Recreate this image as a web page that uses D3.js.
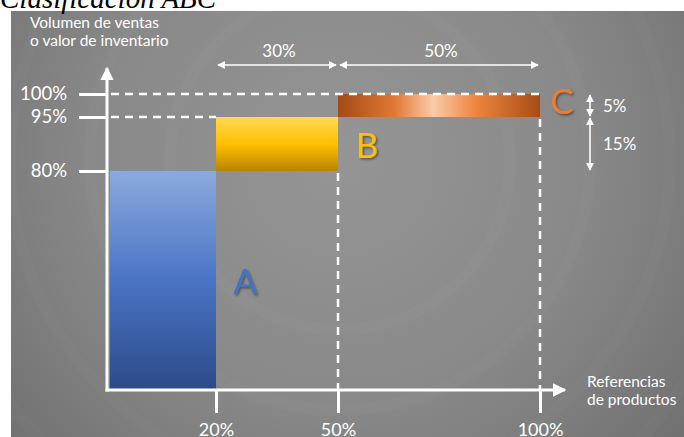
<!DOCTYPE html>
<html>
<head>
<meta charset="utf-8">
<style>
  body { margin: 0; background: #fff; }
  svg { display: block; }
  text { font-family: Lato, "Open Sans", sans-serif; }
</style>
</head>
<body>
<svg width="684" height="437"></svg>
<script src="https://d3js.org/d3.v7.min.js"></script>
<script>
  // breakpoints on both axes (the chart is schematic, not to scale)
  var xStops = [0, 20, 50, 100];
  var yStops = [0, 80, 95, 100];

  var xTickLabels = ["20%", "50%", "100%"];
  var yTickLabels = ["80%", "95%", "100%"];

  var classes = ["A", "B", "C"];
  var classX0 = [0, 20, 50];
  var classX1 = [20, 50, 100];
  var classY0 = [0, 80, 95];
  var classY1 = [80, 95, 100];

  var topSpans = ["30%", "50%"];     // share of references for B and C
  var rightSpans = ["5%", "15%"];    // share of volume for C and B

  var svg = d3.select("svg");

  var x = d3.scaleLinear().domain(xStops).range([107, 216, 338, 540]);
  var y = d3.scaleLinear().domain(yStops).range([390, 171, 117, 94]);

  var defs = svg.append("defs");

  var bg = defs.append("radialGradient").attr("id", "bg")
      .attr("gradientUnits", "userSpaceOnUse")
      .attr("cx", 340).attr("cy", 160).attr("r", 480);
  bg.append("stop").attr("offset", 0).attr("stop-color", "#959595");
  bg.append("stop").attr("offset", 0.5).attr("stop-color", "#898989");
  bg.append("stop").attr("offset", 1).attr("stop-color", "#6c6c6c");

  var gA = defs.append("linearGradient").attr("id", "gA").attr("x1", 0).attr("y1", 0).attr("x2", 0).attr("y2", 1);
  gA.append("stop").attr("offset", 0).attr("stop-color", "#8ba9dd");
  gA.append("stop").attr("offset", 0.5).attr("stop-color", "#4a74c4");
  gA.append("stop").attr("offset", 1).attr("stop-color", "#2c4a88");

  var gB = defs.append("linearGradient").attr("id", "gB").attr("x1", 0).attr("y1", 0).attr("x2", 0).attr("y2", 1);
  gB.append("stop").attr("offset", 0).attr("stop-color", "#ffd856");
  gB.append("stop").attr("offset", 0.5).attr("stop-color", "#ffc000");
  gB.append("stop").attr("offset", 1).attr("stop-color", "#b88400");

  var gC = defs.append("linearGradient").attr("id", "gC").attr("x1", 0).attr("y1", 0).attr("x2", 1).attr("y2", 0);
  gC.append("stop").attr("offset", 0).attr("stop-color", "#a24b14");
  gC.append("stop").attr("offset", 0.28).attr("stop-color", "#e07835");
  gC.append("stop").attr("offset", 0.47).attr("stop-color", "#f9cca8");
  gC.append("stop").attr("offset", 0.68).attr("stop-color", "#ee8540");
  gC.append("stop").attr("offset", 1).attr("stop-color", "#a64c16");

  var shadow = defs.append("filter").attr("id", "sh").attr("x", -0.3).attr("y", -0.3).attr("width", 1.6).attr("height", 1.6);
  shadow.append("feDropShadow").attr("dx", 1.5).attr("dy", 1.5).attr("stdDeviation", 1.2)
      .attr("flood-color", "#000").attr("flood-opacity", 0.45);

  var arrowHead = defs.append("marker").attr("id", "ah")
      .attr("viewBox", "0 0 10 10").attr("refX", 9).attr("refY", 5)
      .attr("markerWidth", 5).attr("markerHeight", 5).attr("markerUnits", "strokeWidth")
      .attr("orient", "auto-start-reverse");
  arrowHead.append("path").attr("d", "M0,0L10,5L0,10z").attr("fill", "#fff");

  var bigHead = defs.append("marker").attr("id", "bh")
      .attr("viewBox", "0 0 10 10").attr("refX", 9).attr("refY", 5)
      .attr("markerWidth", 4.5).attr("markerHeight", 4.5).attr("markerUnits", "strokeWidth")
      .attr("orient", "auto");
  bigHead.append("path").attr("d", "M0,0L10,5L0,10z").attr("fill", "#fff");

  // panel
  svg.append("rect").attr("x", 11).attr("y", 11).attr("width", 673).attr("height", 426).attr("fill", "url(#bg)");
  var rings = svg.append("g").attr("fill", "none").attr("stroke", "#fff").attr("stroke-opacity", 0.018).attr("stroke-width", 12);
  [170, 250, 330, 410, 490].forEach(function(r) {
    rings.append("circle").attr("cx", 340).attr("cy", 160).attr("r", r);
  });
  svg.append("rect").attr("x", 0).attr("y", 0).attr("width", 684).attr("height", 11).attr("fill", "#fff");
  svg.append("rect").attr("x", 0).attr("y", 0).attr("width", 11).attr("height", 437).attr("fill", "#fff");

  svg.append("text").attr("x", 0).attr("y", 8)
      .style("font-family", "'Liberation Serif', serif").style("font-style", "italic")
      .attr("font-size", 29).attr("fill", "#000").text("Clasificación ABC");

  var g = svg.append("g");

  // bars
  g.selectAll(".bar").data(classes).enter().append("rect")
      .attr("x", function(d, i) { return x(classX0[i]) + (i === 0 ? 3 : 0); })
      .attr("y", function(d, i) { return y(classY1[i]); })
      .attr("width", function(d, i) { return x(classX1[i]) - x(classX0[i]) - (i === 0 ? 3 : 0); })
      .attr("height", function(d, i) { return y(classY0[i]) - y(classY1[i]); })
      .attr("fill", function(d) { return "url(#g" + d + ")"; });

  // dashed guides
  var dash = g.append("g").attr("stroke", "#fff").attr("stroke-width", 2.5).attr("stroke-dasharray", "8,6").attr("fill", "none");
  dash.append("line").attr("x1", x(0) + 4).attr("x2", x(100)).attr("y1", y(100)).attr("y2", y(100));
  dash.append("line").attr("x1", x(0) + 4).attr("x2", x(20)).attr("y1", y(95)).attr("y2", y(95));
  dash.append("line").attr("x1", x(50)).attr("x2", x(50)).attr("y1", y(80) + 2).attr("y2", y(0));
  dash.append("line").attr("x1", x(100)).attr("x2", x(100)).attr("y1", y(95) + 2).attr("y2", y(0));

  // axes
  var yAxis = g.append("g").attr("transform", "translate(" + x(0) + ",0)")
      .call(d3.axisLeft(y).tickValues([80, 95, 100]).tickSize(28).tickPadding(12)
        .tickFormat(function(d, i) { return yTickLabels[i]; }));
  yAxis.select(".domain").remove();
  yAxis.selectAll("line").attr("stroke", "#fff").attr("stroke-width", 3);
  yAxis.selectAll("text").attr("fill", "#fff").attr("font-size", 18.5).style("font-family", "Lato, sans-serif");

  var xAxis = g.append("g").attr("transform", "translate(0," + y(0) + ")")
      .call(d3.axisBottom(x).tickValues([20, 50, 100]).tickSize(23).tickPadding(10)
        .tickFormat(function(d, i) { return xTickLabels[i]; }));
  xAxis.select(".domain").remove();
  xAxis.selectAll("line").attr("stroke", "#fff").attr("stroke-width", 3);
  xAxis.selectAll("text").attr("fill", "#fff").attr("font-size", 18).style("font-family", "Lato, sans-serif");

  g.append("line").attr("x1", x(0)).attr("x2", x(0)).attr("y1", y(0) + 1.5).attr("y2", 68)
      .attr("stroke", "#fff").attr("stroke-width", 3).attr("marker-end", "url(#bh)");
  g.append("line").attr("x1", x(0) - 1.5).attr("x2", 565).attr("y1", y(0)).attr("y2", y(0))
      .attr("stroke", "#fff").attr("stroke-width", 3).attr("marker-end", "url(#bh)");

  // axis titles
  var yt = g.append("text").attr("fill", "#fff").attr("font-size", 15.5);
  yt.append("tspan").attr("x", 30).attr("y", 28).text("Volumen de ventas");
  yt.append("tspan").attr("x", 30).attr("y", 46).text("o valor de inventario");
  var xt = g.append("text").attr("fill", "#fff").attr("font-size", 15.5);
  xt.append("tspan").attr("x", 587).attr("y", 387).text("Referencias");
  xt.append("tspan").attr("x", 587).attr("y", 405).text("de productos");

  // span arrows on top
  var topY = 65;
  var spanX0 = [20, 50], spanX1 = [50, 100];
  topSpans.forEach(function(lbl, i) {
    g.append("line").attr("x1", x(spanX0[i]) + 2).attr("x2", x(spanX1[i]) - 2)
        .attr("y1", topY).attr("y2", topY)
        .attr("stroke", "#fff").attr("stroke-width", 1.6)
        .attr("marker-start", "url(#ah)").attr("marker-end", "url(#ah)");
    g.append("text").attr("x", (x(spanX0[i]) + x(spanX1[i])) / 2 + 2).attr("y", 57)
        .attr("text-anchor", "middle").attr("fill", "#fff").attr("font-size", 17).text(lbl);
  });

  // span arrows on the right
  var rightX = 590;
  var spanY0 = [95, 80], spanY1 = [100, 95];
  rightSpans.forEach(function(lbl, i) {
    g.append("line").attr("x1", rightX).attr("x2", rightX)
        .attr("y1", y(spanY1[i]) + 1).attr("y2", y(spanY0[i]) - 1)
        .attr("stroke", "#fff").attr("stroke-width", 1.6)
        .attr("marker-start", "url(#ah)").attr("marker-end", "url(#ah)");
    g.append("text").attr("x", 603).attr("y", (y(spanY0[i]) + y(spanY1[i])) / 2 + 6)
        .attr("fill", "#fff").attr("font-size", 17).text(lbl);
  });

  // class letters
  var letterX = [245, 367, 562];
  var letterY = [294, 158, 114];
  var letterCol = ["#4472c4", "#ffc000", "#ed7d31"];
  g.selectAll(".letter").data(classes).enter().append("text")
      .attr("x", function(d, i) { return letterX[i]; })
      .attr("y", function(d, i) { return letterY[i]; })
      .attr("text-anchor", "middle").attr("font-size", 35)
      .attr("fill", function(d, i) { return letterCol[i]; })
      .attr("filter", "url(#sh)")
      .text(function(d) { return d; });
</script>
</body>
</html>
